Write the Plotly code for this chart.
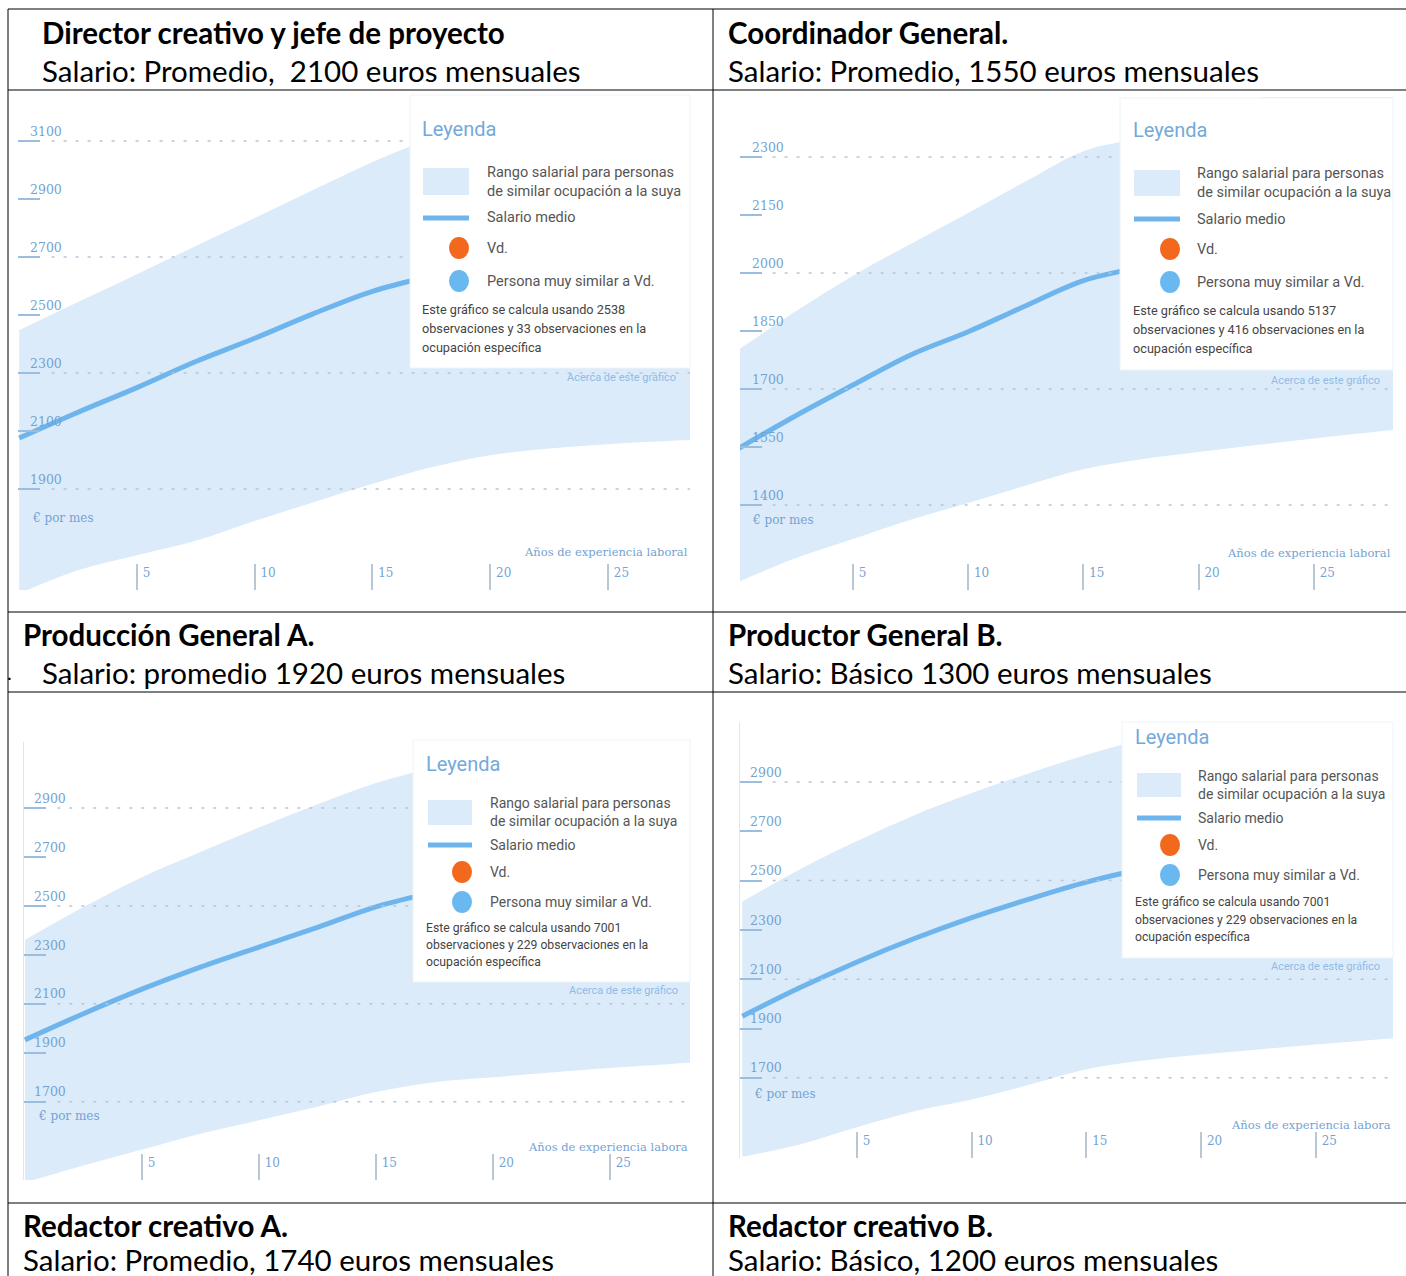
import plotly.graph_objects as go

W, H = 1406, 1276

# ---------------- DATA ----------------
years = [0, 2.5, 5, 7.5, 10, 12.5, 15, 17.5, 20, 22.5, 25, 28.5]

# Panel 1: Director creativo y jefe de proyecto
p1_upper = [2448, 2545, 2641, 2738, 2835, 2932, 3028, 3110, 3180, 3250, 3310, 3380]
p1_mean = [2076, 2165, 2250, 2340, 2420, 2505, 2582, 2635, 2680, 2720, 2750, 2780]
p1_lower = [1540, 1620, 1672, 1722, 1790, 1855, 1918, 1975, 2017, 2040, 2055, 2069]
p1_ytick_vals = [1552, 1900, 2100, 2300, 2500, 2700, 2900, 3100]
p1_ytick_text = ["1500", "1900", "2100", "2300", "2500", "2700", "2900", "3100"]
p1_grid = [1900, 2300, 2700, 3100]
p1_obs = ("2538", "33")

# Panel 2: Coordinador General
p2_upper = [1800, 1900, 1993, 2075, 2155, 2237, 2315, 2350, 2400, 2450, 2500, 2550]
p2_mean = [1545, 1630, 1710, 1788, 1848, 1915, 1980, 2015, 2040, 2060, 2075, 2090]
p2_lower = [1200, 1262, 1312, 1362, 1405, 1450, 1492, 1518, 1537, 1555, 1572, 1594]
p2_ytick_vals = [1180, 1400, 1550, 1700, 1850, 2000, 2150, 2300]
p2_ytick_text = ["1100", "1400", "1550", "1700", "1850", "2000", "2150", "2300"]
p2_grid = [1400, 1700, 2000, 2300]
p2_obs = ("5137", "416")

# Panel 3: Producción General A.
p3_upper = [2361, 2495, 2617, 2720, 2820, 2915, 3002, 3065, 3120, 3170, 3210, 3250]
p3_mean = [1953, 2060, 2160, 2250, 2332, 2412, 2496, 2555, 2600, 2635, 2665, 2695]
p3_lower = [1370, 1440, 1505, 1570, 1625, 1680, 1740, 1780, 1800, 1820, 1838, 1860]
p3_ytick_vals = [1381, 1700, 1900, 2100, 2300, 2500, 2700, 2900]
p3_ytick_text = ["1300", "1700", "1900", "2100", "2300", "2500", "2700", "2900"]
p3_grid = [1700, 2100, 2500, 2900]
p3_obs = ("7001", "229")

# Panel 4: Productor General B.
p4_upper = [2415, 2545, 2660, 2765, 2855, 2935, 3010, 3075, 3130, 3180, 3220, 3260]
p4_mean = [1950, 2065, 2170, 2265, 2350, 2425, 2494, 2548, 2590, 2625, 2655, 2685]
p4_lower = [1380, 1430, 1500, 1565, 1612, 1672, 1735, 1770, 1795, 1815, 1835, 1862]
p4_ytick_vals = [1375, 1700, 1900, 2100, 2300, 2500, 2700, 2900]
p4_ytick_text = ["1300", "1700", "1900", "2100", "2300", "2500", "2700", "2900"]
p4_grid = [1700, 2100, 2500, 2900]
p4_obs = ("7001", "229")

xtick_vals = [5, 10, 15, 20, 25]
xtick_text = ["5", "10", "15", "20", "25"]

headers = [
    ("Director creativo y jefe de proyecto", "Salario: Promedio,  2100 euros mensuales"),
    ("Coordinador General.", "Salario: Promedio, 1550 euros mensuales"),
    ("Producción General A.", "Salario: promedio 1920 euros mensuales"),
    ("Productor General B.", "Salario: Básico 1300 euros mensuales"),
    ("Redactor creativo A.", "Salario: Promedio, 1740 euros mensuales"),
    ("Redactor creativo B.", "Salario: Básico, 1200 euros mensuales"),
]

legend_title = "Leyenda"
legend_items = ["Rango salarial para personas", "de similar ocupación a la suya",
                "Salario medio", "Vd.", "Persona muy similar a Vd."]
about_text = "Acerca de este gráfico"
y_unit = "€ por mes"
x_title_full = "Años de experiencia laboral"
x_title_cut = "Años de experiencia labora"

# ---------------- STYLE / LAYOUT ----------------
FILL = "#dcebfa"
LINE = "#6db5ec"
TICKTXT = "#74a3d3"
GRID = "#b5c6d8"
ORANGE = "#f2691e"
BLUE_DOT = "#6ab8f0"


def fx(px):
    return px / W


def fy(py):
    return 1 - py / H


panels = [
    dict(upper=p1_upper, mean=p1_mean, lower=p1_lower, yv=p1_ytick_vals, yt=p1_ytick_text, grid=p1_grid,
         obs=p1_obs, xpx=(18, 690), ypx=(95, 590), xr=(-0.05, 28.48), yr=(1552, 3259), edge=False,
         xtitle=x_title_full, unit_pos=(30, 518), xtitle_pos=(690, 552),
         box=(410, 95, 690, 368), title=(420, 129), sw=(423, 168, 469, 195), ln=218, cx=459,
         cys=(248, 281), tx=485, tys=(172, 191, 218, 248, 281), nx=420, nys=(309, 328, 347),
         about=(678, 378), fs=14.5),
    dict(upper=p2_upper, mean=p2_mean, lower=p2_lower, yv=p2_ytick_vals, yt=p2_ytick_text, grid=p2_grid,
         obs=p2_obs, xpx=(740, 1393), ypx=(97, 590), xr=(0.1, 28.43), yr=(1180, 2455), edge=False,
         xtitle=x_title_full, unit_pos=(750, 520), xtitle_pos=(1393, 553),
         box=(1120, 98, 1393, 370), title=(1131, 130), sw=(1134, 170, 1180, 196), ln=219, cx=1170,
         cys=(249, 282), tx=1195, tys=(173, 193, 219, 249, 282), nx=1131, nys=(310, 329, 349),
         about=(1382, 380), fs=14.5),
    dict(upper=p3_upper, mean=p3_mean, lower=p3_lower, yv=p3_ytick_vals, yt=p3_ytick_text, grid=p3_grid,
         obs=p3_obs, xpx=(24, 690), ypx=(742, 1180), xr=(-0.04, 28.42), yr=(1381, 3169), edge=True,
         xtitle=x_title_cut, unit_pos=(36, 1116), xtitle_pos=(690, 1147),
         box=(413, 740, 690, 982), title=(424, 764), sw=(428, 800, 472, 825), ln=845, cx=462,
         cys=(872, 902), tx=488, tys=(803, 821, 845, 872, 902), nx=424, nys=(928, 945, 962),
         about=(680, 990), fs=14),
    dict(upper=p4_upper, mean=p4_mean, lower=p4_lower, yv=p4_ytick_vals, yt=p4_ytick_text, grid=p4_grid,
         obs=p4_obs, xpx=(740, 1393), ypx=(722, 1158), xr=(-0.1, 28.36), yr=(1375, 3143), edge=True,
         xtitle=x_title_cut, unit_pos=(752, 1094), xtitle_pos=(1393, 1125),
         box=(1122, 722, 1393, 958), title=(1133, 737), sw=(1137, 773, 1181, 797), ln=818, cx=1170,
         cys=(845, 875), tx=1196, tys=(776, 794, 818, 845, 875), nx=1133, nys=(902, 920, 937),
         about=(1382, 966), fs=14),
]

fig = go.Figure()
shapes = []
annotations = []
layout_axes = {}

for i, p in enumerate(panels):
    n = "" if i == 0 else str(i + 1)
    xa, ya = "x" + n, "y" + n
    fig.add_trace(go.Scatter(x=years, y=p["lower"], mode="lines", line=dict(width=0, color=FILL, shape="spline"),
                             xaxis=xa, yaxis=ya, showlegend=False, hoverinfo="skip"))
    fig.add_trace(go.Scatter(x=years, y=p["upper"], mode="lines", line=dict(width=0, color=FILL, shape="spline"),
                             fill="tonexty", fillcolor=FILL, xaxis=xa, yaxis=ya,
                             showlegend=False, hoverinfo="skip"))
    fig.add_trace(go.Scatter(x=years, y=p["mean"], mode="lines", line=dict(width=5, color=LINE, shape="spline"),
                             xaxis=xa, yaxis=ya, showlegend=False, hoverinfo="skip"))

    layout_axes["xaxis" + n] = dict(
        domain=[fx(p["xpx"][0]), fx(p["xpx"][1])], range=list(p["xr"]), anchor=ya,
        tickvals=xtick_vals, ticktext=xtick_text, ticks="inside", ticklen=26, tickwidth=1.5,
        tickcolor="#b9c6d3", ticklabelposition="inside right", ticklabelstandoff=5, ticklabelshift=5,
        tickfont=dict(family="DejaVu Serif", size=12, color=TICKTXT),
        showgrid=False, zeroline=False, showline=False, fixedrange=True)
    layout_axes["yaxis" + n] = dict(
        domain=[fy(p["ypx"][1]), fy(p["ypx"][0])], range=list(p["yr"]), anchor=xa,
        tickvals=p["yv"], ticktext=p["yt"], ticks="inside", ticklen=22, tickwidth=2,
        tickcolor="#9bbde0", ticklabelposition="inside top", ticklabelstandoff=9,
        tickfont=dict(family="DejaVu Serif", size=12.5, color=TICKTXT),
        showgrid=False, zeroline=False, showline=p["edge"], linecolor="#e3e7ec", linewidth=1,
        fixedrange=True)

    # dotted grid lines
    for g in p["grid"]:
        shapes.append(dict(type="line", xref=xa + " domain", yref=ya, x0=0.05, x1=1, y0=g, y1=g,
                           line=dict(color=GRID, width=1.5, dash="3px,9px"), layer="above"))

    # axis captions
    annotations.append(dict(text=y_unit, xref="paper", yref="paper", x=fx(p["unit_pos"][0]),
                            y=fy(p["unit_pos"][1]), xanchor="left", yanchor="middle", showarrow=False,
                            font=dict(family="DejaVu Serif", size=12, color=TICKTXT)))
    annotations.append(dict(text=p["xtitle"], xref="paper", yref="paper", x=fx(p["xtitle_pos"][0]),
                            y=fy(p["xtitle_pos"][1]), xanchor="right", yanchor="middle", showarrow=False,
                            font=dict(family="DejaVu Serif", size=11.5, color=TICKTXT)))

    # legend box
    bx0, by0, bx1, by1 = p["box"]
    shapes.append(dict(type="rect", xref="paper", yref="paper", x0=fx(bx0), x1=fx(bx1), y0=fy(by1), y1=fy(by0),
                       fillcolor="white", line=dict(color="#eef3f8", width=1), layer="above"))
    sx0, sy0, sx1, sy1 = p["sw"]
    shapes.append(dict(type="rect", xref="paper", yref="paper", x0=fx(sx0), x1=fx(sx1), y0=fy(sy1), y1=fy(sy0),
                       fillcolor=FILL, line=dict(width=0), layer="above"))
    shapes.append(dict(type="line", xref="paper", yref="paper", x0=fx(sx0), x1=fx(sx1), y0=fy(p["ln"]),
                       y1=fy(p["ln"]), line=dict(color=LINE, width=5), layer="above"))
    for cy, col in zip(p["cys"], (ORANGE, BLUE_DOT)):
        shapes.append(dict(type="circle", xref="paper", yref="paper", x0=fx(p["cx"] - 10), x1=fx(p["cx"] + 10),
                           y0=fy(cy + 11), y1=fy(cy - 11), fillcolor=col, line=dict(width=0), layer="above"))
    annotations.append(dict(text=legend_title, xref="paper", yref="paper", x=fx(p["title"][0]),
                            y=fy(p["title"][1]), xanchor="left", yanchor="middle", showarrow=False,
                            font=dict(family="Roboto", size=20, color="#74a9db")))
    for txt, ty in zip(legend_items, p["tys"]):
        annotations.append(dict(text=txt, xref="paper", yref="paper", x=fx(p["tx"]), y=fy(ty),
                                xanchor="left", yanchor="middle", showarrow=False,
                                font=dict(family="Roboto", size=p["fs"], color="#555555")))
    notes = ["Este gráfico se calcula usando %s" % p["obs"][0],
             "observaciones y %s observaciones en la" % p["obs"][1],
             "ocupación específica"]
    for txt, ty in zip(notes, p["nys"]):
        annotations.append(dict(text=txt, xref="paper", yref="paper", x=fx(p["nx"]), y=fy(ty),
                                xanchor="left", yanchor="middle", showarrow=False,
                                font=dict(family="Roboto", size=p["fs"] - 1.8, color="#444444")))
    annotations.append(dict(text=about_text, xref="paper", yref="paper", x=fx(p["about"][0]),
                            y=fy(p["about"][1]), xanchor="right", yanchor="middle", showarrow=False,
                            font=dict(family="Roboto", size=11, color="#8fbbe6")))

# ---------------- TABLE ----------------
for py in (9, 90, 612, 692, 1203):
    shapes.append(dict(type="line", xref="paper", yref="paper", x0=fx(8), x1=1, y0=fy(py), y1=fy(py),
                       line=dict(color="black", width=1), layer="above"))
for px in (8, 713):
    shapes.append(dict(type="line", xref="paper", yref="paper", x0=fx(px), x1=fx(px), y0=0, y1=fy(9),
                       line=dict(color="black", width=1), layer="above"))

head_pos = [((40, 32), (40, 70)), ((726, 32), (726, 70)),
            ((21, 634), (40, 672)), ((726, 634), (726, 672)),
            ((21, 1225), (21, 1259)), ((726, 1225), (726, 1259))]
for (title, sub), ((tx, ty), (sx, sy)) in zip(headers, head_pos):
    annotations.append(dict(text="<b>%s</b>" % title, xref="paper", yref="paper", x=fx(tx), y=fy(ty),
                            xanchor="left", yanchor="middle", showarrow=False,
                            font=dict(family="Lato", size=29.5, color="black")))
    annotations.append(dict(text=sub, xref="paper", yref="paper", x=fx(sx), y=fy(sy),
                            xanchor="left", yanchor="middle", showarrow=False,
                            font=dict(family="Lato", size=29.5, color="black")))
annotations.append(dict(text=".", xref="paper", yref="paper", x=fx(5), y=fy(672), xanchor="left",
                        yanchor="middle", showarrow=False, font=dict(family="Lato", size=20, color="black")))

fig.update_layout(
    width=W, height=H, autosize=False, margin=dict(l=0, r=0, t=0, b=0),
    paper_bgcolor="white", plot_bgcolor="white", showlegend=False,
    shapes=shapes, annotations=annotations, **layout_axes)

fig.write_html("out.html")
